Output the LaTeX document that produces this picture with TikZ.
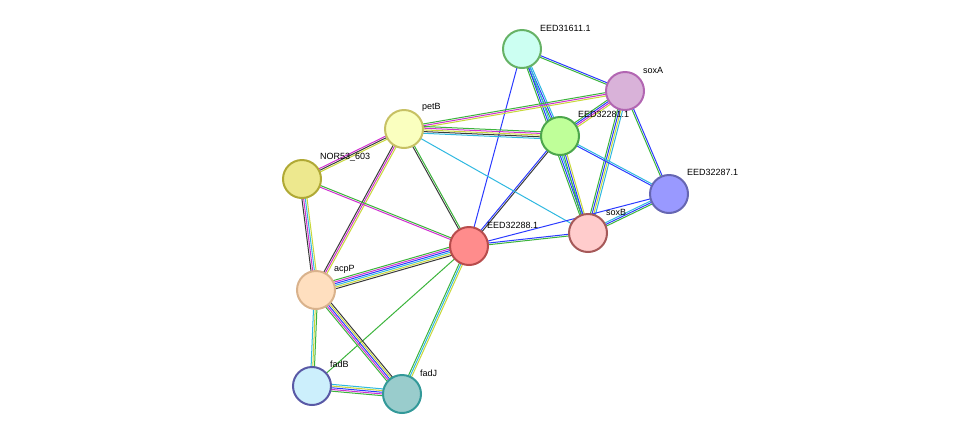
\documentclass[tikz,border=0pt]{standalone}
\usepackage{fontspec}
\setmainfont{Liberation Sans}
\usetikzlibrary{calc,backgrounds}

\definecolor{eNb}{HTML}{3CB43C}
\definecolor{eCo}{HTML}{2B3BFF}
\definecolor{eTx}{HTML}{C8D83A}
\definecolor{eCx}{HTML}{3A3A3A}
\definecolor{eEx}{HTML}{D030D0}
\definecolor{eDb}{HTML}{30B8E0}

\tikzset{
  prot/.style={circle, minimum size=38pt, inner sep=0pt, line width=2pt},
  lbl/.style={font=\fontsize{9}{10}\selectfont, anchor=west, inner sep=0pt}
}

\newcommand\lnk[3]{%
  \foreach \c [count=\i] in {#3}{\xdef\nl{\i}}%
  \foreach \c [count=\i] in {#3}{%
    \pgfmathsetmacro\off{(\i-(\nl+1)/2)*1.7}%
    \draw[\c, line width=1pt] ($(#1)!\off pt!90:(#2)$) -- ($(#2)!\off pt!-90:(#1)$);}}

\begin{document}
\begin{tikzpicture}[x=1pt,y=-1pt]
\useasboundingbox (0,0) rectangle (975,440);

% Drawing proteins
\node[prot, fill=green!25!cyan!20, draw=green!50!black!60] (e31611) at (522,49) {};
\node[prot, fill=violet!30, draw=violet!60] (soxA) at (625,91) {};
\node[prot, fill=green!50!lime!40, draw=green!50!black!70] (e32281) at (560,136) {};
\node[prot, fill=lime!30!yellow!25, draw=olive!50] (petB) at (404,129) {};
\node[prot, fill=olive!40!yellow!40, draw=olive!70] (nor53) at (302,179) {};
\node[prot, fill=blue!40!white, draw=blue!50!black!60] (e32287) at (669,194) {};
\node[prot, fill=red!20, draw=red!30!gray] (soxB) at (588,233) {};
\node[prot, fill=red!45, draw=red!60!black!70] (e32288) at (469,246) {};
\node[prot, fill=orange!25, draw=brown!60] (acpP) at (316,290) {};
\node[prot, fill=cyan!20, draw=blue!30!gray] (fadB) at (312,386) {};
\node[prot, fill=teal!40, draw=teal!80] (fadJ) at (402,394) {};

% Labels
\node[lbl] (l1) at (540,28) {EED31611.1};
\node[lbl] (l2) at (643,70) {soxA};
\node[lbl] (l3) at (578,114) {EED32281.1};
\node[lbl] (l4) at (422,107) {petB};
\node[lbl] (l5) at (320,157) {NOR53\_603};
\node[lbl] (l6) at (687,172) {EED32287.1};
\node[lbl] (l7) at (606,212) {soxB};
\node[lbl] (l8) at (487,225) {EED32288.1};
\node[lbl] (l9) at (334,269) {acpP};
\node[lbl] (l10) at (330,364) {fadB};
\node[lbl] (l11) at (420,373) {fadJ};

% Connecting them
\begin{pgfonlayer}{background}
\lnk{e31611}{soxA}{eNb,eCo}
\lnk{e31611}{e32281}{eNb,eCo,eDb}
\lnk{e31611}{soxB}{eNb,eCo,eDb}
\lnk{e31611}{e32288}{eCo}
\lnk{soxA}{e32281}{eNb,eCo,eEx,eTx}
\lnk{soxA}{petB}{eNb,eEx,eTx}
\lnk{soxA}{soxB}{eNb,eCo,eTx,eDb}
\lnk{soxA}{e32287}{eNb,eCo}
\lnk{e32281}{e32288}{eCo,eCx}
\lnk{e32281}{petB}{eNb,eEx,eTx,eCx,eDb}
\lnk{e32281}{soxB}{eNb,eCo,eTx}
\lnk{e32281}{e32287}{eCo,eDb}
\lnk{petB}{soxB}{eDb}
\lnk{petB}{e32288}{eCx,eNb}
\lnk{petB}{nor53}{eEx,eCx,eTx}
\lnk{petB}{acpP}{eCx,eEx,eTx}
\lnk{nor53}{e32288}{eEx,eNb}
\lnk{nor53}{acpP}{eCx,eEx,eDb,eTx}
\lnk{e32288}{soxB}{eNb,eCo}
\lnk{e32288}{e32287}{eCo}
\lnk{soxB}{e32287}{eNb,eCo,eDb}
\lnk{e32288}{acpP}{eNb,eEx,eCo,eDb,eTx,eCx}
\lnk{e32288}{fadB}{eNb}
\lnk{e32288}{fadJ}{eNb,eDb,eTx}
\lnk{acpP}{fadB}{eDb,eTx,eNb}
\lnk{acpP}{fadJ}{eNb,eEx,eCo,eTx,eCx}
\lnk{fadB}{fadJ}{eNb,eEx,eCo,eTx,eDb}
\end{pgfonlayer}

\end{tikzpicture}
\end{document}
